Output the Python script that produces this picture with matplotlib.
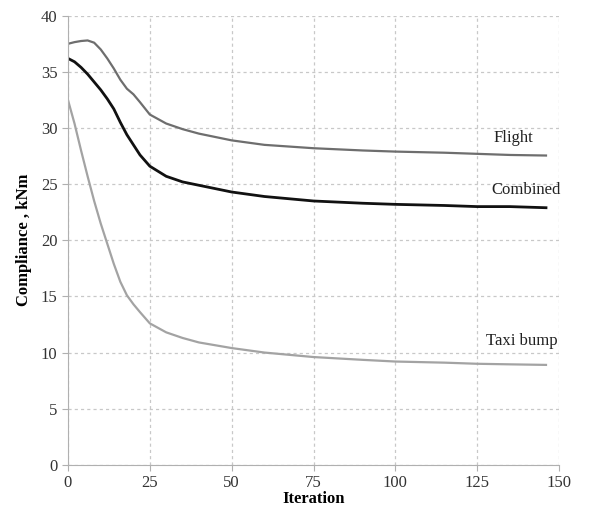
import matplotlib
matplotlib.use("Agg")
import matplotlib.pyplot as plt

# compliance history per load case
iteration = [0, 2, 4, 6, 8, 10, 12, 14, 16, 18, 20, 22, 25, 30, 35, 40,
             50, 60, 75, 90, 100, 115, 125, 135, 146]
flight = [37.5, 37.65, 37.75, 37.8, 37.6, 37.0, 36.2, 35.3, 34.3, 33.5, 33.0,
          32.3, 31.2, 30.4, 29.9, 29.5, 28.9, 28.5, 28.2, 28.0, 27.9, 27.8,
          27.7, 27.6, 27.55]
combined = [36.2, 35.9, 35.4, 34.8, 34.1, 33.4, 32.6, 31.7, 30.5, 29.4, 28.5,
            27.6, 26.6, 25.7, 25.2, 24.9, 24.3, 23.9, 23.5, 23.3, 23.2, 23.1,
            23.0, 23.0, 22.9]
taxi_bump = [32.5, 30.4, 28.0, 25.7, 23.5, 21.5, 19.7, 17.9, 16.3, 15.1, 14.3,
             13.6, 12.6, 11.8, 11.3, 10.9, 10.4, 10.0, 9.6, 9.35, 9.2, 9.1,
             9.0, 8.95, 8.9]

plt.rcParams['font.family'] = ['Liberation Serif', 'DejaVu Serif']

fig = plt.figure(figsize=(5.91, 5.08), dpi=100)
ax = fig.add_axes([0.115, 0.085, 0.831, 0.884])

ax.plot(iteration, flight, color='#6e6e6e', lw=1.6)
ax.plot(iteration, combined, color='#111111', lw=2.0)
ax.plot(iteration, taxi_bump, color='#a3a3a3', lw=1.6)

ax.text(136, 28.4, 'Flight', fontsize=12, ha='center', va='bottom', color='#222222')
ax.text(140, 23.8, 'Combined', fontsize=12, ha='center', va='bottom', color='#222222')
ax.text(138.5, 10.3, 'Taxi bump', fontsize=12, ha='center', va='bottom', color='#222222')

ax.set_xlim(0, 150)
ax.set_ylim(0, 40)
ax.set_xticks(range(0, 151, 25))
ax.set_yticks(range(0, 41, 5))
ax.tick_params(labelsize=12, colors='#333333', length=4, width=0.8)
ax.tick_params(axis='both', color='#b0b0b0')

ax.grid(True, linestyle=(0, (2.5, 2.5)), color='#c8c8c8', lw=0.9)
ax.set_axisbelow(True)
for side in ['top', 'right']:
    ax.spines[side].set_visible(False)
for side in ['left', 'bottom']:
    ax.spines[side].set_color('#b0b0b0')

ax.set_xlabel('Iteration', fontsize=12, fontweight='bold', labelpad=0)
ax.set_ylabel('Compliance , kNm', fontsize=12, fontweight='bold', labelpad=6)

fig.savefig('out.png', dpi=100)
